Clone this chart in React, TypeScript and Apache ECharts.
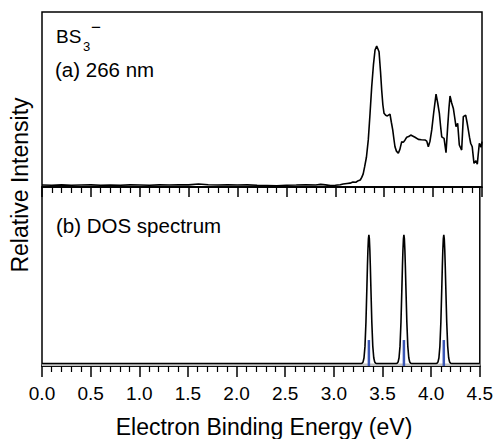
import React, { useEffect, useRef } from "react";
import * as echarts from "echarts";

// Upper panel: photoelectron spectrum at 266 nm (energy eV, relative intensity)
const specX = [
  0.0, 0.1, 0.2, 0.3, 0.4, 0.5, 0.6, 0.7, 0.8, 0.9, 1.0, 1.1, 1.2, 1.3, 1.4, 1.5, 1.6, 1.7, 1.8, 1.9,
  2.0, 2.1, 2.2, 2.3, 2.4, 2.5, 2.6, 2.7, 2.8, 2.85, 2.9, 2.95, 3.0, 3.05, 3.08, 3.12, 3.15, 3.18, 3.21,
  3.235, 3.255, 3.27, 3.285, 3.3, 3.318, 3.337, 3.355, 3.372, 3.39, 3.406, 3.423, 3.447, 3.462, 3.474,
  3.486, 3.498, 3.515, 3.532, 3.559, 3.573, 3.587, 3.6, 3.61, 3.625, 3.644, 3.66, 3.679, 3.695, 3.713,
  3.73, 3.75, 3.771, 3.795, 3.815, 3.849, 3.88, 3.917, 3.935, 3.951, 3.968, 3.986, 4.005, 4.03, 4.047,
  4.064, 4.076, 4.088, 4.1, 4.112, 4.132, 4.149, 4.162, 4.173, 4.19, 4.207, 4.22, 4.234, 4.251, 4.268,
  4.292, 4.3, 4.309, 4.333, 4.347, 4.36, 4.372, 4.384, 4.4, 4.418, 4.438, 4.452, 4.462, 4.473, 4.49, 4.5,
];
const specY = [
  0.011, 0.010, 0.012, 0.010, 0.011, 0.012, 0.010, 0.011, 0.010, 0.012, 0.011, 0.010, 0.012, 0.011, 0.013, 0.012, 0.017, 0.013, 0.011, 0.012,
  0.011, 0.012, 0.010, 0.009, 0.007, 0.010, 0.011, 0.013, 0.011, 0.015, 0.012, 0.008, 0.010, 0.013, 0.017, 0.020, 0.022, 0.029, 0.027,
  0.036, 0.040, 0.055, 0.075, 0.116, 0.170, 0.269, 0.420, 0.573, 0.700, 0.783, 0.806, 0.773, 0.660, 0.554,
  0.470, 0.421, 0.410, 0.406, 0.417, 0.370, 0.326, 0.270, 0.230, 0.205, 0.193, 0.215, 0.259, 0.255, 0.269,
  0.284, 0.288, 0.297, 0.290, 0.284, 0.272, 0.270, 0.269, 0.262, 0.230, 0.262, 0.326, 0.420, 0.531, 0.480,
  0.421, 0.350, 0.287, 0.282, 0.278, 0.196, 0.345, 0.450, 0.520, 0.480, 0.449, 0.400, 0.345, 0.364, 0.240,
  0.211, 0.300, 0.402, 0.411, 0.370, 0.326, 0.285, 0.250, 0.230, 0.135, 0.150, 0.131, 0.190, 0.250, 0.227, 0.259,
];

// Lower panel: simulated DOS spectrum
const dosX = [
  0.0, 3.28, 3.29, 3.30, 3.31, 3.32, 3.33, 3.34, 3.345, 3.35, 3.355, 3.36, 3.365, 3.37, 3.375, 3.38, 3.39, 3.40, 3.41, 3.42, 3.43, 3.44,
  3.64, 3.65, 3.66, 3.67, 3.68, 3.69, 3.70, 3.705, 3.71, 3.715, 3.72, 3.725, 3.73, 3.735, 3.74, 3.75, 3.76, 3.77, 3.78, 3.79, 3.80,
  4.05, 4.06, 4.07, 4.08, 4.09, 4.10, 4.11, 4.115, 4.12, 4.125, 4.13, 4.135, 4.14, 4.145, 4.15, 4.16, 4.17, 4.18, 4.19, 4.20, 4.21, 4.5,
];
const dosY = [
  0.014, 0.014, 0.015, 0.022, 0.046, 0.111, 0.247, 0.450, 0.556, 0.647, 0.710, 0.732, 0.710, 0.647, 0.556, 0.450, 0.247, 0.111, 0.046, 0.022, 0.015, 0.014,
  0.014, 0.015, 0.022, 0.046, 0.111, 0.247, 0.450, 0.556, 0.647, 0.710, 0.732, 0.710, 0.647, 0.556, 0.450, 0.247, 0.111, 0.046, 0.022, 0.015, 0.014,
  0.014, 0.015, 0.022, 0.046, 0.111, 0.247, 0.450, 0.556, 0.647, 0.710, 0.732, 0.710, 0.647, 0.556, 0.450, 0.247, 0.111, 0.046, 0.022, 0.015, 0.014, 0.014,
];
const stickX = [3.36, 3.72, 4.13];
const stickY = [0.145, 0.145, 0.145];
const dosBaseline = 0.014;

const xTickLabels = ["0.0", "0.5", "1.0", "1.5", "2.0", "2.5", "3.0", "3.5", "4.0", "4.5"];

const FONT = '"Liberation Sans", Arial, Helvetica, sans-serif';

export default function App() {
  const ref = useRef<HTMLDivElement>(null);
  useEffect(() => {
    if (!ref.current) return;
    const chart = echarts.init(ref.current, undefined, { renderer: "svg" });
    const xCommon = {
      type: "value" as const,
      min: 0,
      max: 4.5,
      interval: 0.5,
      splitLine: { show: false },
      axisLine: { show: true, onZero: false, lineStyle: { color: "#000", width: 1.5 } },
      axisTick: { show: true, inside: false, length: 10, lineStyle: { color: "#000", width: 1.5 } },
      minorTick: { show: true, splitNumber: 5, length: 6, lineStyle: { color: "#000", width: 1.2 } },
      minorSplitLine: { show: false },
    };
    const yCommon = {
      type: "value" as const,
      min: 0,
      max: 1,
      axisLine: { show: false },
      axisTick: { show: false },
      axisLabel: { show: false },
      splitLine: { show: false },
    };
    chart.setOption({
      animation: false,
      backgroundColor: "#fff",
      grid: [
        { left: 42, right: 14, top: 12, height: 175, show: true, borderColor: "#000", borderWidth: 1.5 },
        { left: 42, right: 14, top: 187, height: 179, show: true, borderColor: "#000", borderWidth: 1.5 },
      ],
      xAxis: [
        { ...xCommon, gridIndex: 0, axisLabel: { show: false } },
        {
          ...xCommon,
          gridIndex: 1,
          axisTick: { ...xCommon.axisTick, length: 11 },
          axisLabel: {
            show: true,
            margin: 18,
            fontSize: 19,
            color: "#000",
            fontFamily: FONT,
            formatter: (v: number) => {
              const i = Math.round(v / 0.5);
              return xTickLabels[i] ?? "";
            },
          },
        },
      ],
      yAxis: [
        { ...yCommon, gridIndex: 0 },
        { ...yCommon, gridIndex: 1 },
      ],
      series: [
        {
          type: "line",
          xAxisIndex: 0,
          yAxisIndex: 0,
          data: specX.map((x, i) => [x, specY[i]]),
          symbol: "none",
          lineStyle: { color: "#000", width: 1.6 },
        },
        {
          type: "bar",
          xAxisIndex: 1,
          yAxisIndex: 1,
          data: stickX.map((x, i) => [x, stickY[i]]),
          barWidth: 2.5,
          itemStyle: { color: "#3a55b4" },
          z: 3,
        },
        {
          type: "line",
          xAxisIndex: 1,
          yAxisIndex: 1,
          data: dosX.map((x, i) => [x, dosY[i]]),
          symbol: "none",
          lineStyle: { color: "#000", width: 1.6 },
          z: 2,
          markArea: {
            silent: true,
            itemStyle: { color: "#c4c4c4" },
            data: [[{ yAxis: 0 }, { yAxis: dosBaseline }]],
          },
        },
      ],
      graphic: [
        { type: "text", left: 56, top: 27, style: { text: "BS", fontSize: 19, fontFamily: FONT, fill: "#000" } },
        { type: "text", left: 83, top: 40, style: { text: "3", fontSize: 13, fontFamily: FONT, fill: "#000" } },
        { type: "text", left: 91, top: 19, style: { text: "\u2212", fontSize: 17, fontFamily: FONT, fill: "#000" } },
        { type: "text", left: 55, top: 59, style: { text: "(a) 266 nm", fontSize: 20.5, fontFamily: FONT, fill: "#000" } },
        { type: "text", left: 56, top: 215, style: { text: "(b) DOS spectrum", fontSize: 20.5, fontFamily: FONT, fill: "#000" } },
        {
          type: "text",
          x: 264,
          y: 427,
          style: {
            text: "Electron Binding Energy (eV)",
            fontSize: 23,
            fontFamily: FONT,
            fill: "#000",
            align: "center",
            verticalAlign: "middle",
          },
        },
        {
          type: "text",
          x: 20,
          y: 185,
          rotation: Math.PI / 2,
          style: {
            text: "Relative Intensity",
            fontSize: 23,
            fontFamily: FONT,
            fill: "#000",
            align: "center",
            verticalAlign: "middle",
          },
        },
      ],
    });
    return () => chart.dispose();
  }, []);
  return <div ref={ref} style={{ width: 496, height: 439, position: "absolute", left: 0, top: 0 }} />;
}
